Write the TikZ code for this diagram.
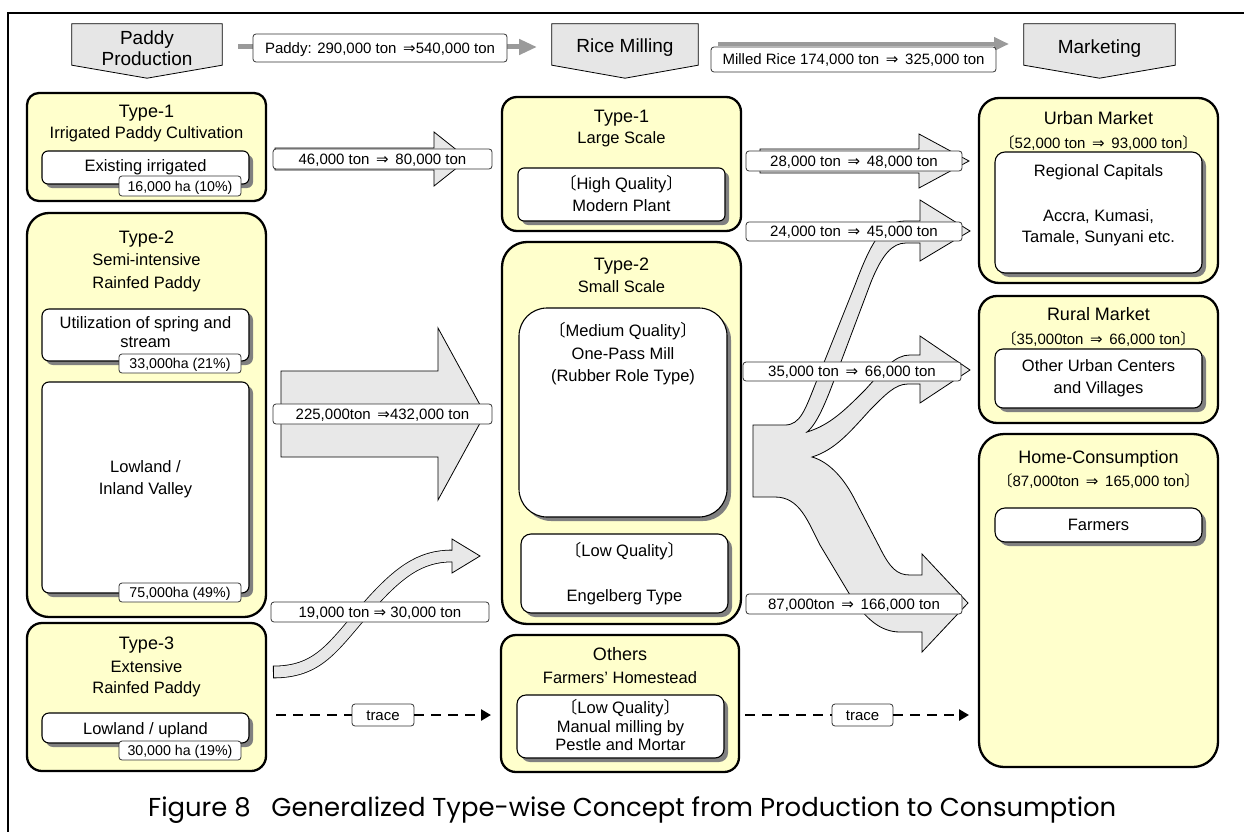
\documentclass[tikz,border=0pt]{standalone}
\usepackage{fontspec}
\setmainfont{Liberation Sans}
\newfontfamily\cjkf{Noto Sans CJK JP}
\newfontfamily\dvf{DejaVu Sans}
\newfontfamily\capf{Poppins}
\usetikzlibrary{fit,shadows,arrows.meta,calc}
\definecolor{yfill}{HTML}{FFFFCC}
\definecolor{agray}{HTML}{E8E8E8}
\definecolor{hfill}{HTML}{E6E6E6}
\definecolor{hgray}{HTML}{9A9A9A}
\definecolor{sgray}{HTML}{808080}
\newcommand\lbk{{\cjkf 〔}}
\newcommand\rbk{{\cjkf 〕}}
\newcommand\myimp{{\dvf ⇒}}
\begin{document}
\begin{tikzpicture}[x=1pt,y=-1pt,
  ybox/.style={draw=black, line width=2.3pt, fill=yfill, inner sep=0pt},
  wbox/.style={draw=black, line width=1.1pt, fill=white, inner sep=0pt,
    drop shadow={shadow xshift=4pt,shadow yshift=-4pt,fill=sgray,opacity=1}},
  lbl/.style={draw=black!80, line width=0.8pt, fill=white, rounded corners=3pt, inner sep=0pt},
  hdr/.style={draw=black, line width=0.8pt, fill=hfill},
  blk/.style={draw=black, line width=0.8pt, fill=agray, line join=miter},
  fa/.style={inner sep=0pt, text height=11.8pt, text depth=0pt, font=\fontsize{16.5}{19}\selectfont},
  fb/.style={inner sep=0pt, text height=12.9pt, text depth=0pt, font=\fontsize{18}{21}\selectfont},
  fc/.style={inner sep=0pt, text height=10.7pt, text depth=0pt, font=\fontsize{15}{18}\selectfont},
  fd/.style={inner sep=0pt, text height=10pt, text depth=0pt, font=\fontsize{14.2}{17}\selectfont},
  fh/.style={inner sep=0pt, text height=13.6pt, text depth=0pt, font=\fontsize{19}{22}\selectfont},
  dashln/.style={line width=2.5pt, dash pattern=on 10pt off 7pt},
]
\useasboundingbox (0,0) rectangle (1244,832);
% frame
\draw[line width=1.5pt] (8,832) -- (8,13) -- (1244,13);

% ---------- header ----------
\node[fit={(72,24) (222,65)}, inner sep=0pt] (hp) {};
\node[fit={(552,24) (698,65)}, inner sep=0pt] (hr) {};
\node[fit={(1024,24) (1175,65)}, inner sep=0pt] (hm) {};
\foreach \n in {hp,hr,hm}{
  \draw[hdr] (\n.north west) -- (\n.north east) -- (\n.south east) -- ([yshift=-13pt]\n.south) -- (\n.south west) -- cycle;
}
\node[fh] (hpt1) at (147,38) {Paddy};
\node[fh] (hpt2) at (147,59) {Production};
\node[fh] (hrt) at (625,46) {Rice Milling};
\node[fh] (hmt) at (1099.5,47) {Marketing};

\coordinate (ha1s) at (238,47);
\coordinate (ha1e) at (537,47);
\coordinate (ha2s) at (718,44);
\coordinate (ha2e) at (1009,44);
\draw[hgray, line width=5pt, -{Triangle[length=18pt,width=15pt]}] (ha1s) -- (ha1e);
\draw[hgray, line width=4pt, -{Triangle[length=15pt,width=13pt]}] (ha2s) -- (ha2e);
\node[lbl, fc, minimum width=254pt, minimum height=28pt] (hl1) at (380,48) {Paddy: 290,000 ton \,\myimp540,000 ton};
\node[lbl, fc, minimum width=285pt, minimum height=25pt] (hl2) at (853.5,59.5) {Milled Rice 174,000 ton \,\myimp\, 325,000 ton};

% ---------- left column ----------
\node[ybox, rounded corners=12pt, fit={(27,93) (266,201)}] (t1l) {};
\node[ybox, rounded corners=22pt, fit={(27,213) (266,617)}] (t2l) {};
\node[ybox, rounded corners=15pt, fit={(27,623) (266,771)}] (t3l) {};
\node[wbox, rounded corners=6pt, fit={(42,151) (249,184)}] (e1) {};
\node[wbox, rounded corners=7pt, fit={(42,309) (249,361)}] (us) {};
\node[wbox, rounded corners=7pt, fit={(42,382) (249,593)}] (li) {};
\node[wbox, rounded corners=7pt, fit={(42,713) (249,743)}] (lu) {};
\node[lbl, fd, minimum width=122pt, minimum height=20pt] (a1) at (180,186) {16,000 ha (10\%)};
\node[lbl, fd, minimum width=122pt, minimum height=19pt] (a2) at (180,363.5) {33,000ha (21\%)};
\node[lbl, fd, minimum width=122pt, minimum height=19pt] (a3) at (180,592.5) {75,000ha (49\%)};
\node[lbl, fd, minimum width=122pt, minimum height=19pt] (a4) at (180,750.5) {30,000 ha (19\%)};

\node[fb] (t1l1) at (146.5,111) {Type-1};
\node[fa] (t1l2) at (146.5,133) {Irrigated Paddy Cultivation};
\node[fa] (e1t) at (145.5,166) {Existing irrigated};
\node[fb] (t2l1) at (146.5,237) {Type-2};
\node[fa] (t2l2) at (146.5,260) {Semi-intensive};
\node[fa] (t2l3) at (146.5,283) {Rainfed Paddy};
\node[fa] (ust1) at (145.5,323) {Utilization of spring and};
\node[fa] (ust2) at (145.5,342) {stream};
\node[fa] (lit1) at (145.5,467) {Lowland /};
\node[fa] (lit2) at (145.5,489) {Inland Valley};
\node[fb] (t3l1) at (146.5,643) {Type-3};
\node[fa] (t3l2) at (146.5,667) {Extensive};
\node[fa] (t3l3) at (146.5,688) {Rainfed Paddy};
\node[fa] (lut) at (145.5,729) {Lowland / upland};

% ---------- middle column ----------
\node[ybox, rounded corners=15pt, fit={(502,97) (741,231)}] (t1m) {};
\node[ybox, rounded corners=25pt, fit={(502,242) (741,624)}] (t2m) {};
\node[ybox, rounded corners=15pt, fit={(501,635) (739,772)}] (oth) {};
\node[wbox, rounded corners=6pt, fit={(518,168) (725,221)}] (hq) {};
\node[wbox, rounded corners=28pt, fit={(519,308) (727,517)}] (mq) {};
\node[wbox, rounded corners=10pt, fit={(521,534) (728,613)}] (lq) {};
\node[wbox, rounded corners=9pt, fit={(517,695) (724,758)}] (mm) {};

\node[fb] (t1m1) at (621.5,116) {Type-1};
\node[fa] (t1m2) at (621.5,138) {Large Scale};
\node[fa] (hqt1) at (621.5,184) {\lbk High Quality\rbk};
\node[fa] (hqt2) at (621.5,206) {Modern Plant};
\node[fb] (t2m1) at (621.5,264) {Type-2};
\node[fa] (t2m2) at (621.5,287) {Small Scale};
\node[fa] (mqt1) at (623,331) {\lbk Medium Quality\rbk};
\node[fa] (mqt2) at (623,354) {One-Pass Mill};
\node[fa] (mqt3) at (623,376) {(Rubber Role Type)};
\node[fa] (lqt1) at (624.5,551) {\lbk Low Quality\rbk};
\node[fa] (lqt2) at (624.5,596) {Engelberg Type};
\node[fb] (otht1) at (620,654) {Others};
\node[fa] (otht2) at (620,678) {Farmers’ Homestead};
\node[fa] (mmt1) at (620.5,708) {\lbk Low Quality\rbk};
\node[fa] (mmt2) at (620.5,727) {Manual milling by};
\node[fa] (mmt3) at (620.5,745) {Pestle and Mortar};

% ---------- right column ----------
\node[ybox, rounded corners=20pt, fit={(979,98) (1218,283)}] (um) {};
\node[ybox, rounded corners=18pt, fit={(979,296) (1218,423)}] (rm) {};
\node[ybox, rounded corners=25pt, fit={(979,434) (1218,767)}] (hc) {};
\node[wbox, rounded corners=10pt, fit={(995,152) (1202,273)}] (rc) {};
\node[wbox, rounded corners=8pt, fit={(995,349) (1202,408)}] (ou) {};
\node[wbox, rounded corners=10pt, fit={(995,508) (1202,542)}] (fa) {};

\node[fb] (umt1) at (1098.5,118) {Urban Market};
\node[fc] (umt2) at (1098.5,143) {\lbk 52,000 ton \,\myimp\, 93,000 ton\rbk};
\node[fa] (rct1) at (1098.5,171) {Regional Capitals};
\node[fa] (rct2) at (1098.5,216) {Accra, Kumasi,};
\node[fa] (rct3) at (1098.5,237) {Tamale, Sunyani etc.};
\node[fb] (rmt1) at (1098.5,314) {Rural Market};
\node[fc] (rmt2) at (1098.5,339) {\lbk 35,000ton \,\myimp\, 66,000 ton\rbk};
\node[fa] (out1) at (1098.5,366) {Other Urban Centers};
\node[fa] (out2) at (1098.5,388) {and Villages};
\node[fb] (hct1) at (1098.5,457) {Home-Consumption};
\node[fc] (hct2) at (1098.5,481) {\lbk 87,000ton \,\myimp\, 165,000 ton\rbk};
\node[fa] (fat) at (1098.5,525) {Farmers};

% ---------- block arrows left -> middle ----------
\draw[blk] (275,148) -- (434,148) -- (434,132) -- (468,159) -- (434,186) -- (434,170) -- (275,170) -- cycle;
\draw[blk] (281,371) -- (438,371) -- (438,328) -- (485,414) -- (438,500) -- (438,457) -- (281,457) -- cycle;
\draw[line width=0.8pt, double=agray, double distance=11pt]
  (273,672) .. controls (318,672) and (332,648) .. (365,610) .. controls (398,572) and (420,556) .. (452,556);
\draw[line width=0.8pt] (273,665.7) -- (273,678.3);
\path[blk] (452,550.5) -- (452,539) -- (480,556) -- (452,573) -- (452,561.5);

% ---------- block arrows middle -> right ----------
\draw[blk] (760,149) -- (919,149) -- (919,134) -- (969,161) -- (919,188) -- (919,173) -- (760,173) -- cycle;
\draw[blk] (753,425) -- (785,425) .. controls (800,425) and (805,410) .. (815,385)
  -- (855,285) .. controls (870,245) and (882,221) .. (905,221) -- (920,221)
  -- (920,200) -- (970,231) -- (920,261) -- (920,243) -- (906,243)
  .. controls (892,243) and (882,255) .. (871,282) -- (836,375)
  .. controls (826,402) and (817,424) .. (807,432)
  .. controls (830,425) and (845,410) .. (865,390)
  .. controls (885,368) and (895,355) .. (910,355) -- (920,355)
  -- (920,336) -- (970,370) -- (920,403) -- (920,384) -- (908,384)
  .. controls (895,384) and (885,395) .. (870,410)
  .. controls (850,432) and (835,450) .. (812,457)
  .. controls (830,462) and (845,480) .. (855,500) -- (880,548)
  .. controls (890,568) and (897,575) .. (910,575) -- (922,575)
  -- (922,554) -- (968,603) -- (922,652) -- (922,632) -- (900,632)
  .. controls (880,632) and (865,618) .. (850,595) -- (820,545)
  .. controls (808,522) and (800,497) .. (775,497) -- (753,497) -- cycle;

% ---------- flow labels ----------
\node[lbl, fc, minimum width=219pt, minimum height=20pt] (l46) at (382.5,159) {46,000 ton \,\myimp\, 80,000 ton};
\node[lbl, fc, minimum width=219pt, minimum height=20pt] (l225) at (382.5,414) {225,000ton \,\myimp432,000 ton};
\node[lbl, fc, minimum width=218pt, minimum height=20pt] (l19) at (380,612) {19,000 ton \myimp\ 30,000 ton};
\node[lbl, fc, minimum width=216pt, minimum height=20pt] (l28) at (854,161) {28,000 ton \,\myimp\, 48,000 ton};
\node[lbl, fc, minimum width=216pt, minimum height=19pt] (l24) at (854,231.5) {24,000 ton \,\myimp\, 45,000 ton};
\node[lbl, fc, minimum width=218pt, minimum height=19pt] (l35) at (852,371.5) {35,000 ton \,\myimp\, 66,000 ton};
\node[lbl, fc, minimum width=216pt, minimum height=20pt] (l87) at (854,604) {87,000ton \,\myimp\, 166,000 ton};

% ---------- trace dashed arrows ----------
\node[lbl, fc, minimum width=62pt, minimum height=22pt] (tr1) at (383,715) {trace};
\node[lbl, fc, minimum width=61pt, minimum height=22pt] (tr2) at (862.5,715) {trace};
\coordinate (d1s) at (276,715);
\coordinate (d1e) at (491,715);
\coordinate (d2s) at (745,715);
\coordinate (d2e) at (969,715);
\draw[dashln] (d1s) -- (tr1.west);
\draw[dashln, -{Triangle[length=10pt,width=11pt]}] (tr1.east) -- (d1e);
\draw[dashln] (d2s) -- (tr2.west);
\draw[dashln, -{Triangle[length=10pt,width=11pt]}] (tr2.east) -- (d2e);

% ---------- caption ----------
\node[inner sep=0pt, anchor=west, font=\capf\fontsize{25.9}{30}\selectfont] (cap) at (148,810)
  {Figure 8\hspace{0.8em}Generalized Type-wise Concept from Production to Consumption};
\end{tikzpicture}
\end{document}
